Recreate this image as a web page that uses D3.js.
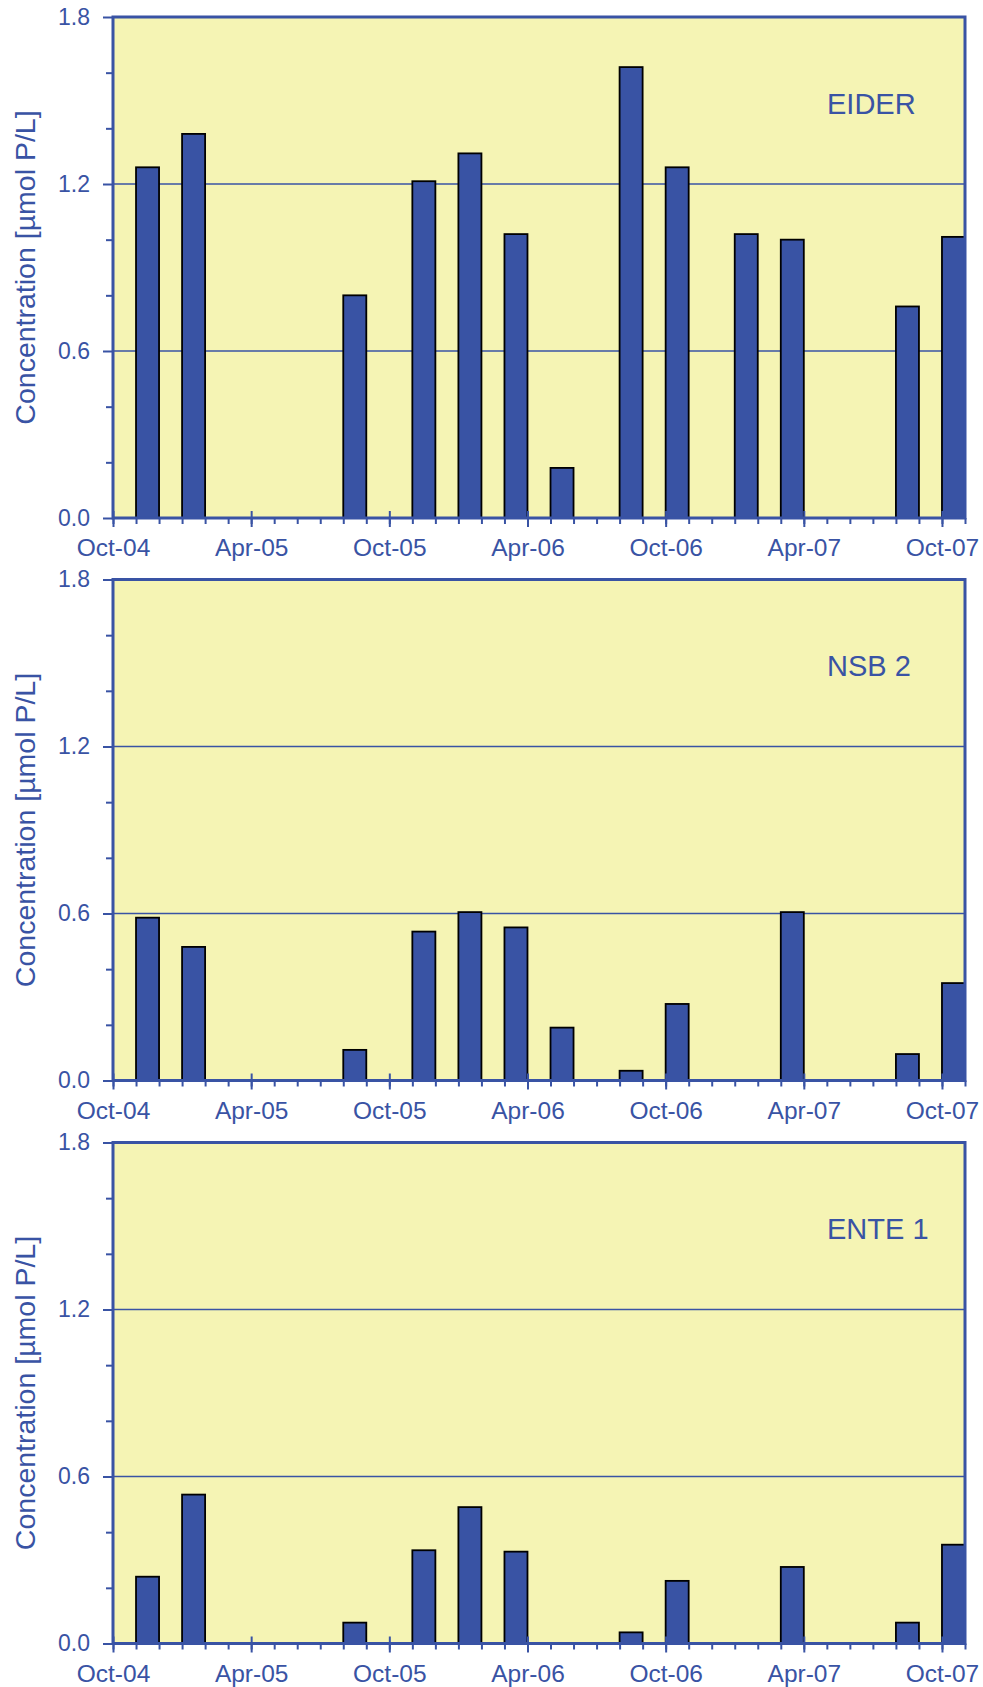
<!DOCTYPE html>
<html><head><meta charset="utf-8">
<script src="https://cdn.jsdelivr.net/npm/d3@7"></script>
<style>
body{margin:0;background:#fff}
text{font-family:"Liberation Sans",Arial,Helvetica,sans-serif}
</style>
</head><body>
<svg id="chart" width="983" height="1687"></svg>
<script>
// Monthly categories of the date axis
const months = ["Oct-04","Nov-04","Dec-04","Jan-05","Feb-05","Mar-05","Apr-05","May-05","Jun-05","Jul-05","Aug-05","Sep-05",
  "Oct-05","Nov-05","Dec-05","Jan-06","Feb-06","Mar-06","Apr-06","May-06","Jun-06","Jul-06","Aug-06","Sep-06",
  "Oct-06","Nov-06","Dec-06","Jan-07","Feb-07","Mar-07","Apr-07","May-07","Jun-07","Jul-07","Aug-07","Sep-07","Oct-07"];
const axisEnd = "Nov-07";
const xTickLabels = ["Oct-04","Apr-05","Oct-05","Apr-06","Oct-06","Apr-07","Oct-07"];
const yMajorTicks = [0, 0.6, 1.2, 1.8];
const yMinorTicks = [0.2, 0.4, 0.8, 1.0, 1.4, 1.6];
const yGrid = [0.6, 1.2];

// Sampling months
const sampleMonths = ["Nov-04","Jan-05","Aug-05","Nov-05","Jan-06","Mar-06","May-06","Aug-06","Oct-06","Jan-07","Mar-07","Aug-07","Oct-07"];
// Concentrations [µmol P/L]
const eider = [1.26, 1.38, 0.80, 1.21, 1.31, 1.02, 0.18, 1.62, 1.26, 1.02, 1.00, 0.76, 1.01];
const nsb2  = [0.585, 0.48, 0.11, 0.535, 0.605, 0.55, 0.19, 0.035, 0.275, null, 0.605, 0.095, 0.35];
const ente1 = [0.24, 0.535, 0.075, 0.335, 0.49, 0.33, null, 0.04, 0.225, null, 0.275, 0.075, 0.355];
const stations = ["EIDER", "NSB 2", "ENTE 1"];
const seriesList = [eider, nsb2, ente1];

const BLUE = "#3953a4", YELLOW = "#f5f4b4";
const left = 113, right = 965, plotH = 501;
const tops = [17, 579.5, 1142.5];

const svg = d3.select("#chart");
const x = d3.scaleBand().domain(months).range([left, right]).paddingInner(0).paddingOuter(0);
const xb = d3.scalePoint().domain(months.concat([axisEnd])).range([left, right]).padding(0);
const y = d3.scaleLinear().domain([0, 1.8]).range([plotH, 0]);

stations.forEach((name, i) => {
  const vals = seriesList[i];
  const g = svg.append("g").attr("transform", `translate(0,${tops[i]})`);

  g.append("rect").attr("x", left).attr("y", 0).attr("width", right - left).attr("height", plotH)
    .attr("fill", YELLOW);

  g.selectAll(".grid").data(yGrid).join("line")
    .attr("x1", left).attr("x2", right).attr("y1", d => y(d)).attr("y2", d => y(d))
    .attr("stroke", BLUE).attr("stroke-width", 1.4);

  const data = sampleMonths.map((m, j) => ({m, v: vals[j]})).filter(d => d.v != null);
  g.selectAll(".bar").data(data).join("rect")
    .attr("x", d => x(d.m)).attr("width", x.bandwidth())
    .attr("y", d => y(d.v)).attr("height", d => y(0) - y(d.v))
    .attr("fill", BLUE).attr("stroke", "#000").attr("stroke-width", 1.8);

  g.append("rect").attr("x", left).attr("y", 0).attr("width", right - left).attr("height", plotH)
    .attr("fill", "none").attr("stroke", BLUE).attr("stroke-width", 3);

  // y axis
  const ya = g.append("g").attr("transform", `translate(${left},0)`)
    .call(d3.axisLeft(y).tickValues(yMajorTicks).tickSize(10).tickPadding(13).tickFormat(d3.format(".1f")));
  const ym = g.append("g").attr("transform", `translate(${left},0)`)
    .call(d3.axisLeft(y).tickValues(yMinorTicks).tickSize(7).tickFormat(""));
  [ya, ym].forEach(a => { a.select(".domain").remove(); a.selectAll("line").attr("stroke", BLUE).attr("stroke-width", 2); });
  ya.selectAll("text").attr("fill", BLUE).style("font-size", "23px");

  // x axis
  const xm = g.append("g").attr("transform", `translate(0,${plotH})`)
    .call(d3.axisBottom(xb).tickSize(6).tickFormat(""));
  const xa = g.append("g").attr("transform", `translate(0,${plotH})`)
    .call(d3.axisBottom(xb).tickValues(xTickLabels).tickSize(9).tickPadding(12));
  [xa, xm].forEach(a => { a.select(".domain").remove(); a.selectAll("line").attr("stroke", BLUE).attr("stroke-width", 2); });
  xa.selectAll("line").attr("y1", -7);
  xa.selectAll("text").attr("fill", BLUE).style("font-size", "24.5px");

  // axis title
  g.append("text").attr("transform", `translate(35,${plotH / 2}) rotate(-90)`)
    .attr("text-anchor", "middle").attr("fill", BLUE).style("font-size", "28.5px")
    .text("Concentration [µmol P/L]");

  // station label
  g.append("text").attr("x", 827).attr("y", 96.5).attr("fill", BLUE).style("font-size", "29px").text(name);
});
</script>
</body></html>
